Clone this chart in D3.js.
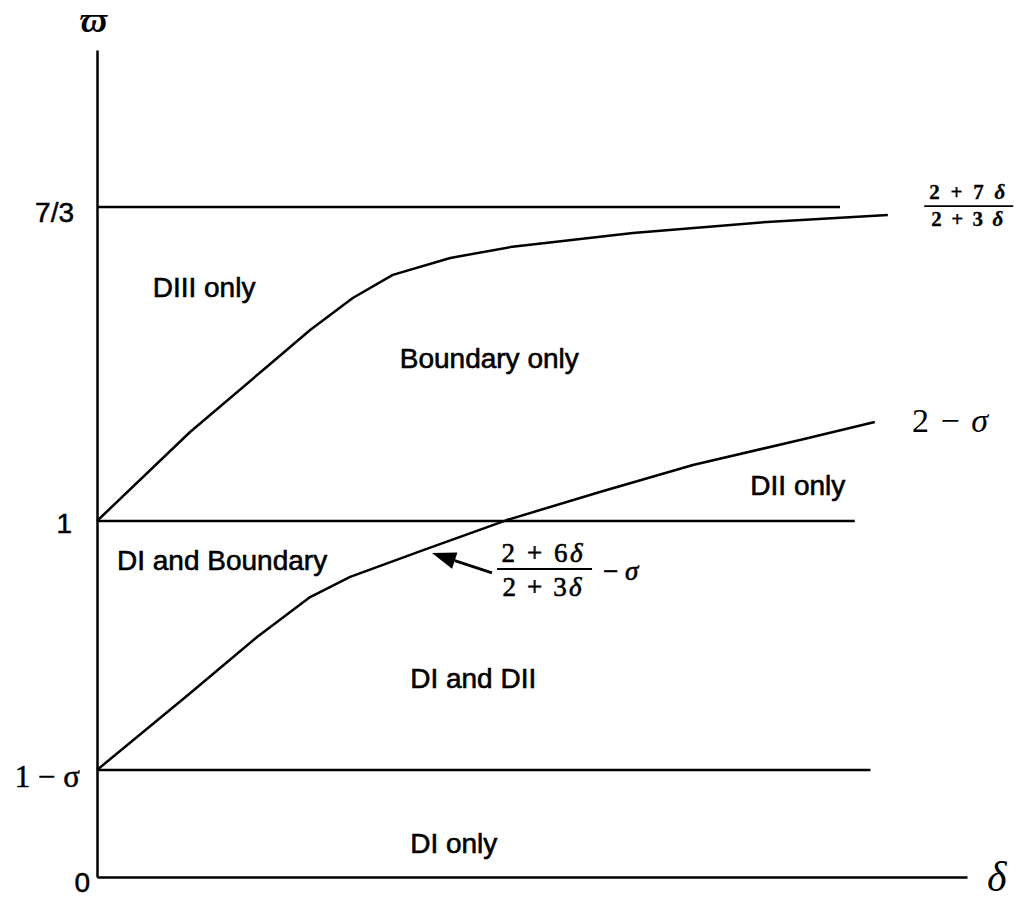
<!DOCTYPE html>
<html>
<head>
<meta charset="utf-8">
<script src="https://cdn.jsdelivr.net/npm/d3@7"></script>
<style>
  html, body { margin: 0; padding: 0; background: #fff; }
  svg { display: block; }
</style>
</head>
<body>
<script>
// ---------- data (schematic units) ----------
// y ticks: omega values (sigma taken as 0.7 so 1 - sigma = 0.3)
const yTickValues = [0, 0.3, 1, 7 / 3];
const yTickLabels = ["0", "1 \u2212 \u03C3", "1", "7/3"];

// upper boundary curve  (2 + 7δ)/(2 + 3δ)
const upperDelta = [0, 1.07, 1.95, 2.45, 2.94, 3.40, 4.06, 4.75, 6.16, 7.70, 9.09];
const upperOmega = [1, 1.378, 1.654, 1.811, 1.947, 2.045, 2.117, 2.163, 2.223, 2.270, 2.299];

// lower boundary curve  (2 + 6δ)/(2 + 3δ) − σ
const lowerDelta = [0, 1.07, 1.84, 2.45, 2.91, 3.75, 4.71, 5.78, 6.85, 8.08, 8.94];
const lowerOmega = [0.3, 0.516, 0.674, 0.786, 0.843, 0.918, 1.004, 1.123, 1.238, 1.344, 1.420];

// horizontal reference lines: level and where each line ends
const hLineLevels = [7 / 3, 1, 0.3];
const hLineEnds   = [8.54, 8.71, 8.89];

// region labels
const regionNames = ["DIII only", "Boundary only", "DI and Boundary", "DII only", "DI and DII", "DI only"];
const regionDelta = [0.64, 3.48, 0.23, 7.51, 3.60, 3.60];
const regionOmega = [1.951, 1.650, 0.862, 1.110, 0.531, 0.067];

// ---------- layout ----------
const W = 1021, H = 902;
const x = d3.scaleLinear().domain([0, 10]).range([97, 967]);
const y = d3.scaleLinear().domain([0, 0.3, 1, 7 / 3, 3]).range([877, 770, 521, 207, 50]);

const svg = d3.select("body").append("svg").attr("width", W).attr("height", H);
const SANS = "'Liberation Sans', Arial, Helvetica, sans-serif";
const SERIF = "'Liberation Serif', 'Times New Roman', serif";
const LW = 2.5;

// axes
const xAxis = d3.axisBottom(x).tickValues([]).tickSizeOuter(0);
const gx = svg.append("g").attr("transform", `translate(0,${y(0)})`).call(xAxis);
gx.select(".domain").attr("stroke", "#000").attr("stroke-width", LW);

const yAxis = d3.axisLeft(y).tickValues(yTickValues)
  .tickFormat((d, i) => yTickLabels[i]).tickSize(0).tickSizeOuter(0).tickPadding(0);
const gy = svg.append("g").attr("transform", `translate(${x(0)},0)`).call(yAxis);
gy.select(".domain").attr("stroke", "#000").attr("stroke-width", LW);
const tickStyle = {
  "0":     { dx: -7,  dy: 5, font: SANS,  size: 28 },
  "1 \u2212 \u03C3": { dx: -17, dy: 6, font: SERIF, size: 31 },
  "1":     { dx: -25, dy: 2, font: SANS,  size: 28 },
  "7/3":   { dx: -23, dy: 5, font: SANS,  size: 28 }
};
gy.selectAll(".tick text").each(function (d, i) {
  const s = tickStyle[yTickLabels[i]];
  d3.select(this).attr("x", s.dx).attr("dy", null).attr("y", 0)
    .attr("dominant-baseline", "central")
    .attr("transform", `translate(0,${s.dy})`)
    .style("font-family", s.font).style("font-size", s.size + "px")
    .attr("fill", "#000").attr("stroke", "#000").attr("stroke-width", 0.5)
    .attr("text-anchor", "end");
});

// horizontal lines
svg.append("g").selectAll("line").data(hLineLevels).join("line")
  .attr("x1", x(0)).attr("x2", (d, i) => x(hLineEnds[i]))
  .attr("y1", d => y(d)).attr("y2", d => y(d))
  .attr("stroke", "#000").attr("stroke-width", LW);

// curves
const line = d3.line().x(d => x(d[0])).y(d => y(d[1]));
const upper = upperDelta.map((d, i) => [d, upperOmega[i]]);
const lower = lowerDelta.map((d, i) => [d, lowerOmega[i]]);
[upper, lower].forEach(pts => {
  svg.append("path").attr("d", line(pts)).attr("fill", "none")
    .attr("stroke", "#000").attr("stroke-width", LW).attr("stroke-linejoin", "round");
});

// region labels
svg.append("g").selectAll("text").data(regionNames).join("text")
  .attr("x", (d, i) => x(regionDelta[i])).attr("y", (d, i) => y(regionOmega[i]))
  .style("font-family", SANS).style("font-size", "28px").attr("fill", "#000")
  .attr("stroke", "#000").attr("stroke-width", 0.6)
  .text(d => d);

// axis titles
svg.append("text").attr("x", 80).attr("y", 32)
  .style("font-family", SERIF).style("font-style", "italic").style("font-weight", "bold")
  .style("font-size", "36px")
  .text("\u03D6");
svg.append("text").attr("x", 987).attr("y", 891)
  .style("font-family", SERIF).style("font-style", "italic").style("font-size", "42px")
  .text("\u03B4");

// 2 − σ label
const tm = svg.append("text").attr("x", 912).attr("y", y(1.365) - 3)
  .style("font-family", SERIF).style("font-size", "34px")
  .attr("textLength", 76).attr("lengthAdjust", "spacing");
tm.append("tspan").text("2 \u2212 ");
tm.append("tspan").style("font-style", "italic").text("\u03C3");

// fraction helper: parts = [plain text, italic delta]
function fracText(g, xx, yy, plain, w, opts) {
  const t = g.append("text").attr("x", xx).attr("y", yy)
    .style("font-family", SERIF).style("font-size", opts.size + "px")
    .style("font-weight", opts.weight).attr("stroke", "#000").attr("stroke-width", opts.sw)
    .attr("textLength", w).attr("lengthAdjust", "spacing");
  t.append("tspan").text(plain);
  t.append("tspan").style("font-style", "italic").text("\u03B4");
}
function fraction(cx, barY, num, den, opts) {
  const g = svg.append("g");
  g.append("line").attr("x1", cx - opts.barL).attr("x2", cx + opts.barR)
    .attr("y1", barY).attr("y2", barY).attr("stroke", "#000").attr("stroke-width", opts.bw);
  fracText(g, cx - opts.numW / 2, barY - opts.up, num, opts.numW, opts);
  fracText(g, cx - opts.denW / 2, barY + opts.down, den, opts.denW, opts);
  return g;
}

// upper-right fraction: (2 + 7δ)/(2 + 3δ)
fraction(x(10.06) - 5, y(2.337), "2 + 7 ", "2 + 3 ",
  { size: 21, weight: "bold", numW: 76, denW: 72, barL: 43, barR: 46, up: 7, down: 20, bw: 1.8, sw: 0.3 });

// lower fraction: (2 + 6δ)/(2 + 3δ) − σ
const fx = x(5.15) - 3, fy = y(0.865);
fraction(fx, fy, "2 + 6", "2 + 3",
  { size: 27, weight: "normal", numW: 81, denW: 79, barL: 45, barR: 50, up: 7, down: 27, bw: 1.8, sw: 0.6 });
const ms = svg.append("text").attr("x", fx + 61).attr("y", fy + 11)
  .style("font-family", SERIF).style("font-size", "27px")
  .attr("stroke", "#000").attr("stroke-width", 0.6);
ms.append("tspan").text("\u2212 ");
ms.append("tspan").style("font-style", "italic").text("\u03C3");

// arrow pointing at the lower curve
const tail = [x(4.54), y(0.854)], tip = [x(3.85), y(0.910)];
const ang = Math.atan2(tip[1] - tail[1], tip[0] - tail[0]);
const hl = 24, hw = 8.5;
const base = [tip[0] - hl * Math.cos(ang), tip[1] - hl * Math.sin(ang)];
svg.append("line").attr("x1", tail[0]).attr("y1", tail[1]).attr("x2", base[0]).attr("y2", base[1])
  .attr("stroke", "#000").attr("stroke-width", 2.8);
svg.append("path")
  .attr("d", d3.line()([
    tip,
    [base[0] + hw * Math.sin(ang), base[1] - hw * Math.cos(ang)],
    [base[0] - hw * Math.sin(ang), base[1] + hw * Math.cos(ang)]
  ]) + "Z")
  .attr("fill", "#000");
</script>
</body>
</html>
